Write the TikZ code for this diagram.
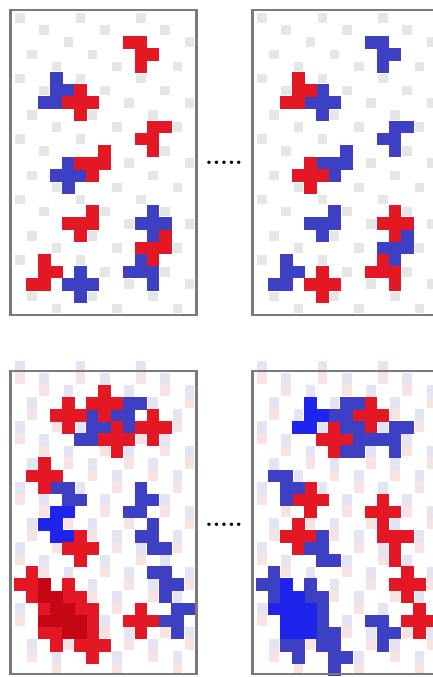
\documentclass[tikz,border=0pt]{standalone}
\usepackage{xcolor}

\definecolor{cellred}{RGB}{228,24,36}
\definecolor{darkred}{RGB}{198,8,22}
\definecolor{cellblue}{RGB}{62,64,196}
\definecolor{brightblue}{RGB}{30,36,236}
\definecolor{bggrey}{RGB}{230,230,230}
\definecolor{bglav}{RGB}{228,228,244}
\definecolor{bgpink}{RGB}{248,226,226}
\definecolor{framegrey}{RGB}{122,122,122}

\tikzset{
  frame/.style={draw=framegrey, line width=2.4pt},
  redcell/.style={fill=cellred},
  darkcell/.style={fill=darkred},
  bluecell/.style={fill=cellblue},
  brightcell/.style={fill=brightblue},
  panel/.style={x=12.1pt, y=-12.1pt},
  gapdots/.style={inner sep=0pt, anchor=base west, font=\fontsize{23.8}{23.8}\selectfont\bfseries}
}

% one square of the lattice
\newcommand{\pixcell}[3]{\fill[#1] (#2-0.02,#3-0.02) rectangle ++(1.04,1.04);}

% faint background squares
\newcommand{\greyback}{%
  \foreach \r in {0,...,24} {
    \pgfmathtruncatemacro{\cz}{mod(2*\r,5)}
    \foreach \k in {0,5,10}
      \fill[bggrey] (\cz+\k+0.1,\r+0.1) rectangle ++(0.8,0.8);
  }}
\newcommand{\pastelback}{%
  \foreach \r in {0,...,24} {
    \pgfmathtruncatemacro{\cz}{mod(2*\r,5)}
    \foreach \k in {0,5,10} {
      \fill[bgpink] (\cz+\k+0.1,\r) rectangle ++(0.8,0.9);
      \fill[bglav] (\cz+\k+0.1,\r-1) rectangle ++(0.8,1);
    }
  }}

% top pair (second panel swaps the colours)
\def\topRed{9/2,10/2,10/3,11/3,10/4,5/6,4/7,5/7,6/7,5/8,11/9,12/9,10/10,11/10,11/11,
  7/11,5/12,6/12,7/12,6/13,6/16,4/17,5/17,6/17,5/18,12/18,10/19,11/19,12/19,11/20,
  2/20,2/21,3/21,1/22,2/22}
\def\topBlue{3/5,3/6,4/6,2/7,3/7,4/12,3/13,4/13,5/13,4/14,11/16,10/17,11/17,12/17,11/18,
  10/20,9/21,10/21,11/21,11/22,5/21,4/22,5/22,6/22,5/23}

% bottom left
\def\blRed{7/1,6/2,7/2,8/2,4/2,3/3,4/3,5/3,7/3,11/3,4/4,8/4,10/4,11/4,12/4,7/5,8/5,9/5,
  11/5,8/6,2/7,1/8,2/8,3/8,2/9,5/13,4/14,5/14,6/14,5/15,10/19,9/20,10/20,11/20,10/21,
  1/16,0/17,1/17,4/17,1/18,4/18,5/18,2/19,5/19,6/19,6/20,2/21,3/21,6/21,3/22,5/22,6/22,7/22,6/23}
\def\blDark{2/17,2/18,3/18,3/19,4/19,2/20,3/20,4/20,5/20,4/21,5/21}
\def\blBlue{9/2,10/2,6/3,8/3,9/3,6/4,7/4,9/4,5/5,6/5,3/9,4/9,4/10,5/10,10/9,10/10,11/10,
  9/11,10/11,11/12,10/13,11/13,11/14,12/14,11/16,12/16,12/17,13/17,12/18,13/19,14/19,
  12/20,13/20,13/21}
\def\blBright{3/11,4/11,2/12,3/12,3/13,4/13}

% bottom right
\def\brRed{9/2,8/3,9/3,10/3,6/4,9/4,5/5,6/5,7/5,6/6,4/9,3/10,4/10,5/10,10/10,4/11,9/11,
  10/11,11/11,3/12,10/12,2/13,3/13,4/13,10/13,11/13,12/13,3/14,11/14,11/15,12/16,11/17,
  12/17,13/17,12/18,13/19,12/20,13/20,14/20,13/21}
\def\brBlue{7/2,8/2,6/3,7/3,7/4,8/4,11/4,12/4,8/5,9/5,10/5,11/5,7/6,8/6,11/6,1/8,2/8,2/9,
  3/9,2/10,5/13,4/14,5/14,5/15,6/15,1/16,0/17,1/17,4/17,1/18,4/18,5/18,5/19,5/20,9/20,
  10/20,5/21,6/21,10/21,11/21,2/22,3/22,5/22,6/22,10/22,3/23,6/23,7/23,6/24}
\def\brBright{4/2,4/3,5/3,3/4,4/4,2/17,2/18,3/18,1/19,2/19,3/19,4/19,2/20,3/20,4/20,
  2/21,3/21,4/21}

\begin{document}
\begin{tikzpicture}[x=1pt,y=-1pt]
  \useasboundingbox (0,0) rectangle (433,677);
  \clip (0,0) rectangle (433,677);

  % top left
  \begin{scope}[shift={(14pt,-12pt)},panel]
    \greyback
    \foreach \c/\r in \topBlue {\pixcell{bluecell}{\c}{\r}}
    \foreach \c/\r in \topRed {\pixcell{redcell}{\c}{\r}}
  \end{scope}
  \draw[frame] (10.5,10) rectangle (196.5,315);

  % top right
  \begin{scope}[shift={(256pt,-12pt)},panel]
    \greyback
    \foreach \c/\r in \topRed {\pixcell{bluecell}{\c}{\r}}
    \foreach \c/\r in \topBlue {\pixcell{redcell}{\c}{\r}}
  \end{scope}
  \draw[frame] (252.5,10) rectangle (438.5,315);

  % bottom left
  \begin{scope}[shift={(14pt,-373pt)},panel]
    \pastelback
    \foreach \c/\r in \blBlue {\pixcell{bluecell}{\c}{\r}}
    \foreach \c/\r in \blBright {\pixcell{brightcell}{\c}{\r}}
    \foreach \c/\r in \blRed {\pixcell{redcell}{\c}{\r}}
    \foreach \c/\r in \blDark {\pixcell{darkcell}{\c}{\r}}
  \end{scope}
  \draw[frame] (10.5,371) rectangle (196.5,674);

  % bottom right
  \begin{scope}[shift={(256pt,-373pt)},panel]
    \pastelback
    \foreach \c/\r in \brRed {\pixcell{redcell}{\c}{\r}}
    \foreach \c/\r in \brBlue {\pixcell{bluecell}{\c}{\r}}
    \foreach \c/\r in \brBright {\pixcell{brightcell}{\c}{\r}}
  \end{scope}
  \draw[frame] (252.5,371) rectangle (438.5,674);

  % gaps in time
  \node[gapdots] (gapTop) at (205.2,164) {.....};
  \node[gapdots] (gapBottom) at (205.2,526.5) {.....};
\end{tikzpicture}
\end{document}
